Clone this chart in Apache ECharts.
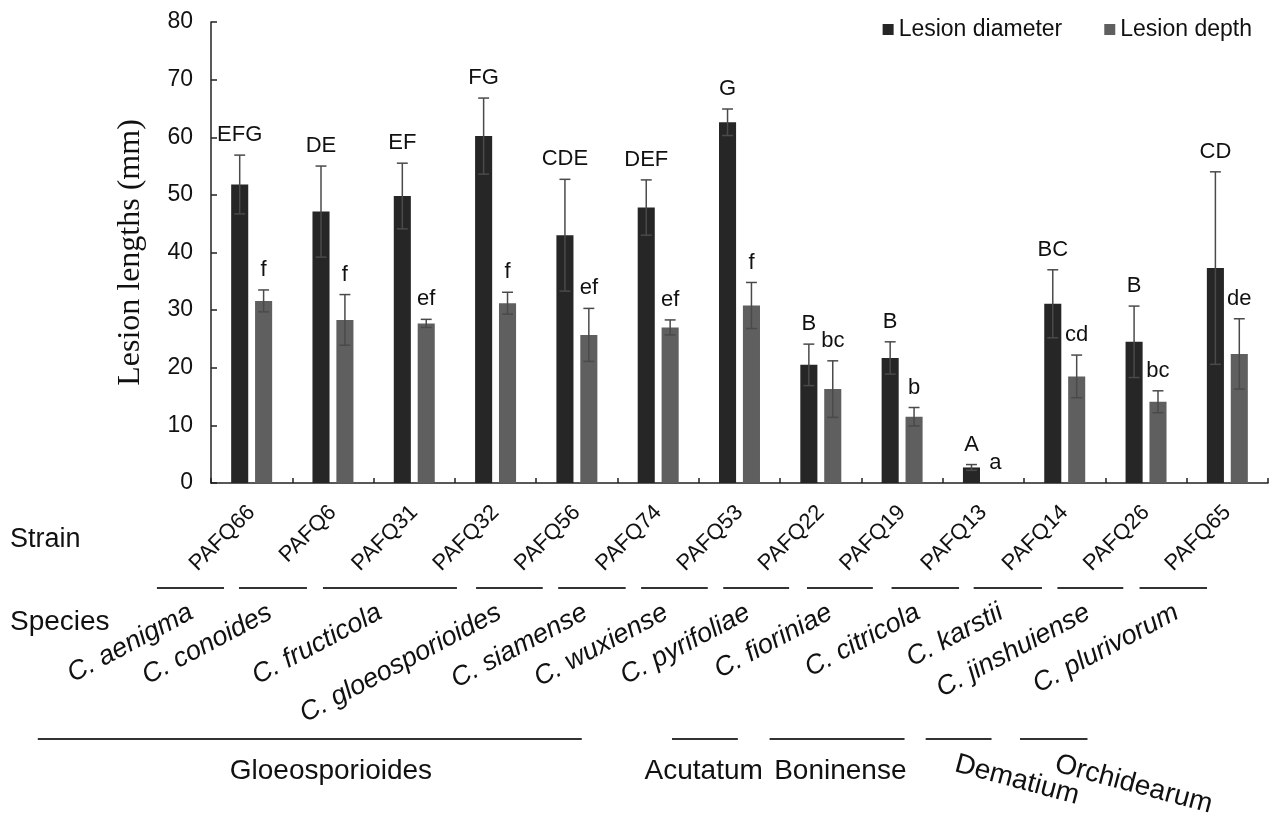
<!DOCTYPE html>
<html>
<head>
<meta charset="utf-8">
<script src="https://cdn.jsdelivr.net/npm/echarts@6/dist/echarts.min.js"></script>
<style>
html,body{margin:0;padding:0;background:#fff;}
#main{width:1271px;height:814px;}
</style>
</head>
<body>
<div id="main"></div>
<script>
// ---------- data ----------
const strains = ['PAFQ66','PAFQ6','PAFQ31','PAFQ32','PAFQ56','PAFQ74','PAFQ53','PAFQ22','PAFQ19','PAFQ13','PAFQ14','PAFQ26','PAFQ65'];
const diameterMean = [51.8, 47.1, 49.8, 60.2, 43.0, 47.8, 62.6, 20.5, 21.7, 2.7, 31.1, 24.5, 37.3];
const diameterErr  = [5.1, 7.9, 5.7, 6.6, 9.7, 4.8, 2.3, 3.6, 2.8, 0.5, 5.9, 6.2, 16.7];
const depthMean    = [31.6, 28.3, 27.7, 31.2, 25.7, 27.0, 30.8, 16.3, 11.5, 0, 18.5, 14.1, 22.4];
const depthErr     = [1.9, 4.4, 0.7, 1.9, 4.6, 1.3, 4.0, 4.9, 1.6, 0, 3.7, 1.9, 6.1];
const diameterLetters = ['EFG','DE','EF','FG','CDE','DEF','G','B','B','A','BC','B','CD'];
const depthLetters    = ['f','f','ef','f','ef','ef','f','bc','b','a','cd','bc','de'];
const yTicks = [0, 10, 20, 30, 40, 50, 60, 70, 80];

const speciesNames = ['C. aenigma','C. conoides','C. fructicola','C. gloeosporioides','C. siamense','C. wuxiense','C. pyrifoliae','C. fioriniae','C. citricola','C. karstii','C. jinshuiense','C. plurivorum'];
const complexNames = ['Gloeosporioides','Acutatum','Boninense','Dematium','Orchidearum'];

// ---------- layout of the annotations (category-step units from the first strain) ----------
const speciesLineFrom = [-1.165, -0.156, 0.877, 2.76, 3.77, 4.79, 5.80, 6.83, 7.87, 8.88, 9.91, 10.92];
const speciesLineTo   = [-0.34, 0.68, 2.525, 3.58, 4.60, 5.61, 6.61, 7.64, 8.70, 9.72, 10.72, 11.75];
const speciesTextAt   = [-0.82, 0.15, 1.50, 2.97, 4.03, 5.02, 6.03, 7.04, 8.12, 9.14, 10.21, 11.30];
const complexLineSpan = [[-2.63,4.06],[5.17,5.98],[6.37,8.03],[8.29,9.10],[9.45,10.28]];
const complexTextPos  = [0.975, 5.56, 7.24, 8.70, 9.93];
const complexTextRot  = [0, 0, 0, -15, -15];

const SANS = 'Liberation Sans, Arial, sans-serif';
const SERIF = 'Liberation Serif, Times New Roman, serif';
const TXT = '#111';

const chart = echarts.init(document.getElementById('main'));

function errSeries(name, means, errs, letters, side) {
  return {
    type: 'custom',
    name: name,
    z: 5,
    encode: {x: 0, y: 1},
    data: means.map((m, i) => [i, m, errs[i]]),
    renderItem: function (params, api) {
      const i = api.value(0), m = api.value(1), e = api.value(2);
      const band = api.size([1, 0])[0];
      const bw = band * 0.21;
      const x = api.coord([i, m])[0] + side * bw * 0.7;
      const yTop = api.coord([i, m + e])[1];
      const yBot = api.coord([i, Math.max(m - e, 0)])[1];
      const cap = bw * 0.32;
      const st = {stroke: '#4a4a4a', lineWidth: 1.5};
      const ch = [];
      if (e > 0) {
        ch.push({type: 'line', shape: {x1: x, y1: yTop, x2: x, y2: yBot}, style: st});
        ch.push({type: 'line', shape: {x1: x - cap, y1: yTop, x2: x + cap, y2: yTop}, style: st});
        ch.push({type: 'line', shape: {x1: x - cap, y1: yBot, x2: x + cap, y2: yBot}, style: st});
      }
      ch.push({type: 'text', x: x, y: yTop - 9,
        style: {text: letters[params.dataIndex], fontSize: 22, fontFamily: SANS, fill: TXT,
                align: 'center', verticalAlign: 'bottom'}});
      return {type: 'group', children: ch};
    }
  };
}

const option = {
  animation: false,
  backgroundColor: '#ffffff',
  grid: {left: 211, right: 3, top: 22, bottom: 331, containLabel: false, outerBoundsMode: 'none'},
  legend: {
    data: ['Lesion diameter', 'Lesion depth'],
    right: 14, top: 13, icon: 'rect', itemWidth: 11, itemHeight: 11, itemGap: 42,
    textStyle: {fontSize: 23, color: TXT, fontFamily: SANS}
  },
  xAxis: {
    type: 'category', data: strains,
    axisLine: {lineStyle: {color: '#222', width: 1.5}},
    axisTick: {show: true, inside: true, length: 5, alignWithLabel: false, lineStyle: {color: '#222', width: 1.5}},
    axisLabel: {interval: 0, rotate: 45, margin: 26, fontSize: 22, color: TXT, fontFamily: SANS},
    splitLine: {show: false}
  },
  yAxis: {
    type: 'value', min: yTicks[0], max: yTicks[yTicks.length - 1], interval: 10,
    name: 'Lesion lengths (mm)', nameLocation: 'middle', nameGap: 64, nameRotate: 90,
    nameTextStyle: {fontFamily: SERIF, fontSize: 32, color: TXT},
    axisLine: {show: true, lineStyle: {color: '#222', width: 1.5}},
    axisTick: {show: true, inside: true, length: 6, lineStyle: {color: '#222', width: 1.5}},
    axisLabel: {fontSize: 23, margin: 18, color: TXT, fontFamily: SANS},
    splitLine: {show: false}
  },
  series: [
    {type: 'bar', name: 'Lesion diameter', data: diameterMean, barWidth: '21%', barGap: '40%',
     itemStyle: {color: '#262626'}},
    {type: 'bar', name: 'Lesion depth', data: depthMean, barWidth: '21%', barGap: '40%',
     itemStyle: {color: '#5f5f5f'}},
    errSeries('diamErr', diameterMean, diameterErr, diameterLetters, -1),
    errSeries('depthErr', depthMean, depthErr, depthLetters, 1)
  ]
};
chart.setOption(option);

// ---------- annotations below the axis ----------
const c0 = chart.convertToPixel({xAxisIndex: 0}, strains[0]);
const c1 = chart.convertToPixel({xAxisIndex: 0}, strains[1]);
const step = c1 - c0;
const X = f => c0 + f * step;
const axisY = chart.convertToPixel({yAxisIndex: 0}, 0);

const g = [];
g.push({type: 'text', x: 10, y: axisY + 57, style: {text: 'Strain', fontSize: 27, fontFamily: SANS, fill: TXT, verticalAlign: 'middle'}});
g.push({type: 'text', x: 10, y: axisY + 139, style: {text: 'Species', fontSize: 28, fontFamily: SANS, fill: TXT, verticalAlign: 'middle'}});

speciesNames.forEach((nm, k) => {
  g.push({type: 'line', shape: {x1: X(speciesLineFrom[k]), y1: axisY + 105, x2: X(speciesLineTo[k]), y2: axisY + 105},
          style: {stroke: '#333', lineWidth: 2}});
  g.push({type: 'text', x: X(speciesTextAt[k]), y: axisY + 116, rotation: 28 * Math.PI / 180,
          style: {text: nm, fontSize: 27, fontStyle: 'italic', fontFamily: SANS, fill: TXT,
                  align: 'right', verticalAlign: 'top'}});
});

complexNames.forEach((nm, k) => {
  const s = complexLineSpan[k];
  g.push({type: 'line', shape: {x1: X(s[0]), y1: axisY + 256, x2: X(s[1]), y2: axisY + 256},
          style: {stroke: '#333', lineWidth: 2}});
  const rot = complexTextRot[k];
  if (rot === 0) {
    g.push({type: 'text', x: X(complexTextPos[k]), y: axisY + 288,
            style: {text: nm, fontSize: 28, fontFamily: SANS, fill: TXT, align: 'center', verticalAlign: 'middle'}});
  } else {
    g.push({type: 'text', x: X(complexTextPos[k]), y: axisY + 267, rotation: rot * Math.PI / 180,
            style: {text: nm, fontSize: 28, fontFamily: SANS, fill: TXT, align: 'left', verticalAlign: 'top'}});
  }
});

chart.setOption({graphic: g});
</script>
</body>
</html>
